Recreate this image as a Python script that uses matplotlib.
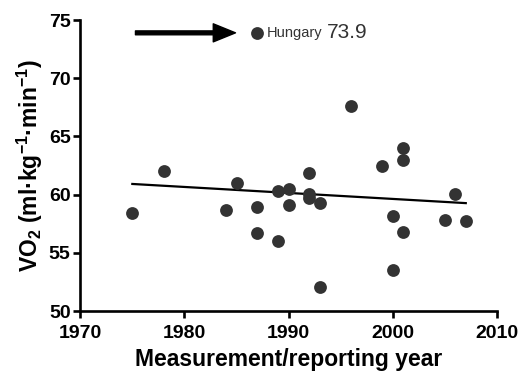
import matplotlib
matplotlib.use("Agg")
import matplotlib.pyplot as plt
import numpy as np

plt.rcParams["font.family"] = ["Liberation Sans", "DejaVu Sans"]
plt.rcParams["mathtext.fontset"] = "custom"
plt.rcParams["mathtext.rm"] = "Liberation Sans:bold"
plt.rcParams["mathtext.default"] = "rm"

# measurement year and VO2 of each study
years = [1975, 1978, 1984, 1985, 1987, 1987, 1989, 1989, 1990, 1990,
         1992, 1992, 1992, 1993, 1993, 1996, 1999, 2000, 2000, 2001,
         2001, 2001, 2005, 2006, 2007]
vo2 = [58.4, 62.0, 58.7, 61.0, 58.9, 56.7, 60.3, 56.0, 60.5, 59.1,
       61.9, 60.1, 59.7, 59.3, 52.1, 67.6, 62.5, 58.2, 53.5, 64.0,
       63.0, 56.8, 57.8, 60.1, 57.7]

# outlier shown off to the top (still part of the regression)
outlier_year = 1987
outlier_vo2 = 73.9
outlier_name = "Hungary"

x_ticks = [1970, 1980, 1990, 2000, 2010]
y_ticks = [50, 55, 60, 65, 70, 75]

dot = "#333333"

fig = plt.figure(figsize=(5.21, 3.78), dpi=100)
ax = fig.add_axes([0.154, 0.177, 0.8, 0.77])

ax.scatter(years, vo2, s=85, color=dot, zorder=3, linewidths=0)

all_x = np.array(years + [outlier_year])
all_y = np.array(vo2 + [outlier_vo2])
slope, intercept = np.polyfit(all_x, all_y, 1)
fit_x = np.array([min(years), max(years)])
ax.plot(fit_x, slope * fit_x + intercept, color="black", lw=1.6, zorder=2)

ax.scatter([outlier_year], [outlier_vo2], s=85, color=dot, zorder=3,
           linewidths=0, clip_on=False)
ax.annotate("", xy=(1984.9, outlier_vo2), xytext=(1975.3, outlier_vo2),
            arrowprops=dict(facecolor="black", edgecolor="black", width=2.8,
                            headwidth=13, headlength=16, shrink=0),
            annotation_clip=False)
ax.text(outlier_year + 0.9, outlier_vo2, outlier_name, fontsize=10.5,
        color=dot, va="center", ha="left")
ax.text(outlier_year + 6.7, outlier_vo2, f"{outlier_vo2}", fontsize=15,
        color=dot, va="center", ha="left")

ax.set_xlim(1970, 2010)
ax.set_ylim(50, 75)
ax.set_xticks(x_ticks)
ax.set_yticks(y_ticks)
for lab in ax.get_xticklabels() + ax.get_yticklabels():
    lab.set_fontweight("bold")
    lab.set_fontsize(14)

ax.spines["top"].set_visible(False)
ax.spines["right"].set_visible(False)
for s in ("left", "bottom"):
    ax.spines[s].set_linewidth(1.9)
ax.tick_params(direction="out", length=5, width=1.9)
ax.tick_params(axis="x", pad=5)
ax.tick_params(axis="y", pad=2)

ax.set_xlabel("Measurement/reporting year", fontsize=16.5, fontweight="bold",
              labelpad=4)
ax.set_ylabel(r"VO$_2$ (ml·kg$^{-1}$·min$^{-1}$)", fontsize=16.5,
              fontweight="bold", labelpad=3)

fig.savefig("out.png", dpi=100)
